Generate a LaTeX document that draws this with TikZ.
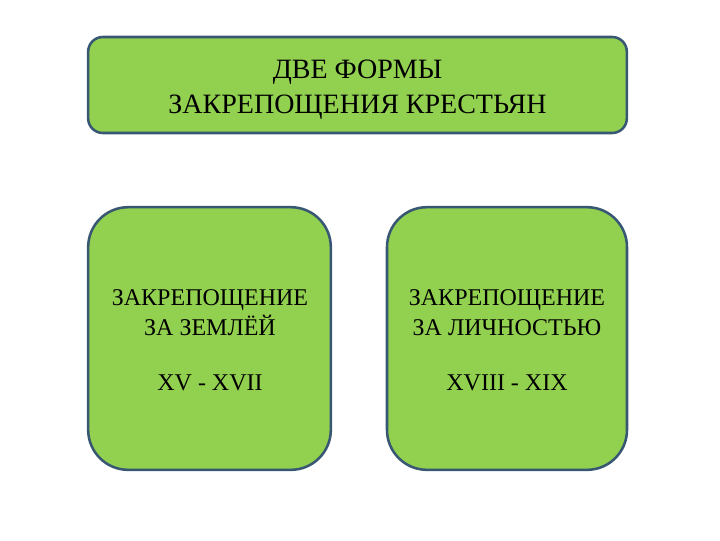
\documentclass[tikz,border=0pt]{standalone}
\usepackage{fontspec}
\setmainfont{Liberation Serif}
\tikzset{
  formbox/.style={draw={rgb, 255:red, 56; green, 87; blue, 115}, fill={rgb, 255:red, 146; green, 208; blue, 80}, line width=1.9pt, inner sep=0pt},
  bigtxt/.style={anchor=base, inner sep=0.75pt, font=\fontsize{21}{25}\selectfont},
  smalltxt/.style={anchor=base, inner sep=0.75pt, font=\fontsize{18}{22}\selectfont},
}
\begin{document}
\begin{tikzpicture}[x=0.75pt,y=0.75pt,yscale=-1,xscale=1]
    \useasboundingbox (0,0) rectangle (720,540);
    
    %Rounded Rect [top]
    \node [formbox, rounded corners=11pt, minimum width=404pt, minimum height=72pt] (top) at (357.5,85) {};
    %Rounded Rect [left]
    \node [formbox, rounded corners=30pt, minimum width=182pt, minimum height=197pt] (land) at (209.5,338.5) {};
    %Rounded Rect [right]
    \node [formbox, rounded corners=30pt, minimum width=180pt, minimum height=197pt] (person) at (507,338.5) {};
    
    % Text Node
    \node [bigtxt] (toptitle) at (357.5,78) {ДВЕ ФОРМЫ};
    % Text Node
    \node [bigtxt] (topsub) at (357.5,113) {ЗАКРЕПОЩЕНИЯ КРЕСТЬЯН};
    % Text Node
    \node [smalltxt] (landa) at (210,305) {ЗАКРЕПОЩЕНИЕ};
    % Text Node
    \node [smalltxt] (landb) at (210,335) {ЗА ЗЕМЛЁЙ};
    % Text Node
    \node [smalltxt] (landc) at (210,390) {XV - XVII};
    % Text Node
    \node [smalltxt] (persona) at (507,305) {ЗАКРЕПОЩЕНИЕ};
    % Text Node
    \node [smalltxt] (personb) at (507,335) {ЗА ЛИЧНОСТЬЮ};
    % Text Node
    \node [smalltxt] (personc) at (507,390) {XVIII - XIX};
    
\end{tikzpicture}
\end{document}
